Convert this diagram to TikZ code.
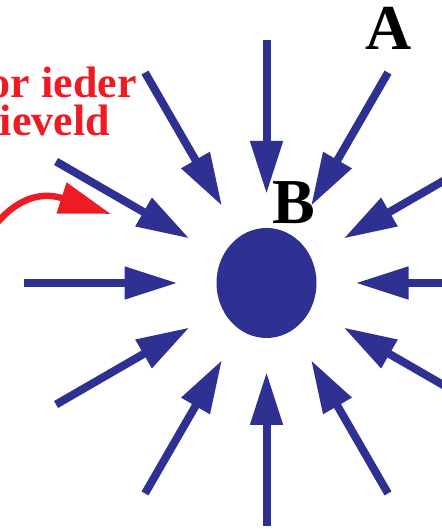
\documentclass[tikz,border=0pt]{standalone}
\usepackage{fontspec}
\setmainfont{Liberation Serif}
\usepackage{tikz}
\usetikzlibrary{shapes.geometric, arrows.meta}
\definecolor{fieldblue}{RGB}{46,49,146}
\definecolor{labelred}{RGB}{237,28,36}
\tikzset{
  mass/.style={ellipse, fill=fieldblue, minimum width=100pt,
    minimum height=110pt, inner sep=0pt},
  fieldarrow/.style={-{Triangle[length=53pt, width=31pt]},
    line width=8pt, color=fieldblue},
  redarrow/.style={-{Triangle[length=52pt, width=31pt]},
    line width=6.5pt, color=labelred},
  pointlabel/.style={font=\fontsize{64}{64}\selectfont\bfseries,
    text=black, anchor=base, inner sep=0pt},
  redtext/.style={font=\fontsize{44}{44}\selectfont\bfseries,
    text=labelred, anchor=base east, inner sep=0pt}
}

\begin{document}
\begin{tikzpicture}[x=1pt, y=1pt]
  \useasboundingbox (0,0) rectangle (441,529);

  % Central mass
  \node[mass] (core) at (266.5,246) {};

  % Radial field arrows, every 30 degrees
  \foreach \ang in {0,30,...,330} {
    \coordinate (tail\ang) at ([shift={(\ang:243pt)}]core.center);
    \coordinate (tip\ang) at ([shift={(\ang:89pt)}]core.center);
    \draw[fieldarrow] (tail\ang) -- (tip\ang);
  }

  % Point labels
  \node[pointlabel] (labA) at (389,479) {A};
  \node[pointlabel] (labB) at (293.5,305) {B};

  % Red caption and pointer
  \node[redtext] (capone) at (137,431) {or ieder};
  \node[redtext] (captwo) at (110,393) {ieveld};
  \coordinate (redstart) at (-8,300);
  \coordinate (redtip) at (111,315);
  \draw[redarrow] (redstart) .. controls (15,330) and (40,338) .. (redtip);
\end{tikzpicture}
\end{document}
